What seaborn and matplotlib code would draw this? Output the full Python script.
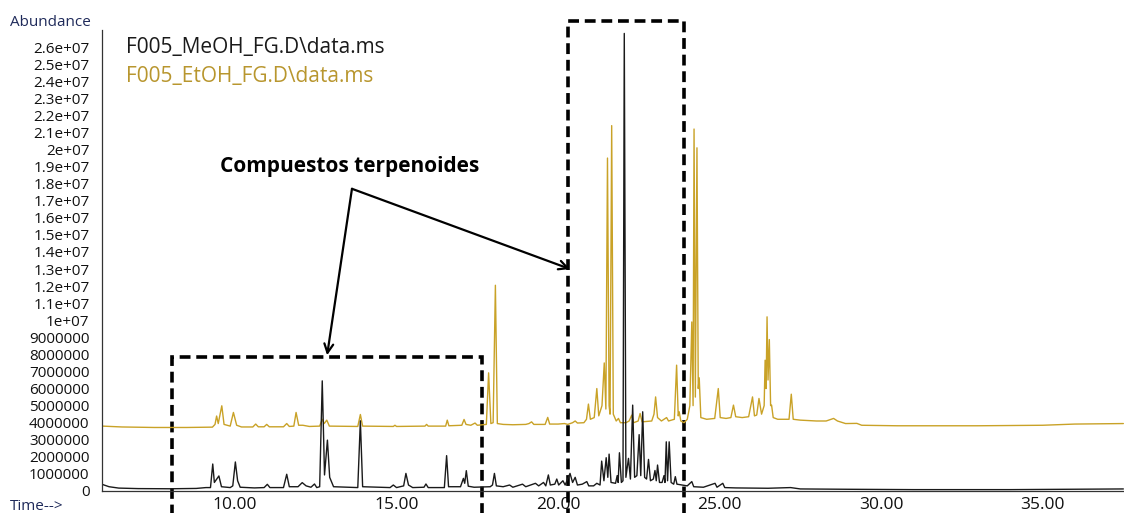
import numpy as np
import matplotlib
matplotlib.use("Agg")
import matplotlib.pyplot as plt
import seaborn as sns
from matplotlib.patches import Rectangle
from matplotlib.ticker import FuncFormatter, MultipleLocator

# Cromatogramas (tiempo en min, abundancia en millones)
meoh_rt = [5.9, 6.1, 6.4, 7.0, 8.0, 8.8, 9.1,
           9.24, 9.31, 9.36, 9.45, 9.50, 9.58, 9.85,
           9.93, 10.01, 10.08, 10.16, 10.6, 10.9, 11.0, 11.08,
           11.5, 11.6, 11.68, 11.95, 12.08, 12.2, 12.35, 12.46, 12.53,
           12.62, 12.70, 12.77, 12.86, 12.93, 13.05,
           13.8, 13.88, 13.95, 14.8, 14.9, 15.0, 15.22, 15.29, 15.37, 15.5,
           15.85, 15.91, 15.98, 16.48, 16.55, 16.61,
           16.98, 17.07, 17.11, 17.16, 17.22, 17.4, 17.9, 17.97, 18.03, 18.09,
           18.3, 18.5, 18.6, 18.9, 19.0, 19.3, 19.4, 19.55, 19.62,
           19.7, 19.76, 19.9, 19.96, 20.02, 20.15, 20.22,
           20.37, 20.45, 20.53, 20.6, 20.75, 20.89, 20.95, 21.1, 21.2,
           21.3, 21.35, 21.42, 21.49, 21.54, 21.58, 21.64,
           21.78, 21.83, 21.86, 21.9, 21.96,
           22.01, 22.05, 22.1, 22.18, 22.24,
           22.31, 22.37, 22.44, 22.51, 22.56, 22.62, 22.68,
           22.74, 22.8, 22.86, 22.95, 23.0, 23.04, 23.08, 23.14,
           23.22, 23.28, 23.31, 23.35, 23.39, 23.44, 23.5,
           23.58, 23.63, 23.68, 23.85, 24.0, 24.14, 24.2,
           24.5, 24.86, 24.92, 25.1, 25.16,
           25.5, 26.5, 27.2, 27.5, 29.0, 31.0, 34.0, 36.0, 37.5]
meoh_abund = [0.38, 0.25, 0.17, 0.14, 0.13, 0.15, 0.2,
              0.2, 1.58, 0.5, 0.75, 0.88, 0.25, 0.2,
              0.3, 1.7, 0.6, 0.22, 0.18, 0.2, 0.39, 0.2,
              0.2, 0.98, 0.25, 0.25, 0.49, 0.3, 0.22, 0.41, 0.2,
              0.25, 6.45, 0.94, 2.98, 0.8, 0.25,
              0.2, 4.11, 0.25, 0.2, 0.35, 0.2, 0.3, 1.03, 0.35, 0.2,
              0.22, 0.41, 0.2, 0.2, 2.07, 0.25,
              0.25, 0.74, 0.45, 1.19, 0.28, 0.22, 0.25, 0.35, 1.03, 0.3,
              0.25, 0.35, 0.22, 0.4, 0.25, 0.45, 0.3, 0.5, 0.3,
              0.94, 0.35, 0.4, 0.7, 0.35, 0.6, 0.35,
              1.03, 0.5, 0.8, 0.35, 0.4, 0.55, 0.3, 0.3, 0.45,
              0.35, 1.75, 0.6, 1.95, 0.8, 2.16, 0.5,
              0.45, 0.9, 0.5, 2.24, 0.5,
              0.6, 26.8, 0.8, 1.91, 0.7,
              5.03, 0.8, 0.9, 3.3, 0.9, 4.64, 0.8,
              0.7, 1.85, 0.6, 0.7, 1.2, 0.6, 1.52, 0.5,
              0.5, 0.9, 0.5, 2.88, 0.6, 2.88, 0.5,
              0.4, 0.84, 0.4, 0.35, 0.3, 0.55, 0.25,
              0.22, 0.45, 0.22, 0.45, 0.2,
              0.18, 0.16, 0.2, 0.12, 0.1, 0.08, 0.08, 0.1, 0.12]

etoh_rt = [5.9, 6.5, 7.5, 8.5, 9.3,
           9.38, 9.43, 9.48, 9.59, 9.66,
           9.85, 9.95, 10.05, 10.2,
           10.55, 10.64, 10.72, 10.9, 10.98, 11.06,
           11.5, 11.6, 11.68, 11.82, 11.89, 11.97, 12.1, 12.3,
           12.62, 12.70, 12.76, 12.84, 12.92,
           13.8, 13.88, 13.95,
           14.9, 14.95, 15.0, 15.88, 15.93, 15.98,
           16.52, 16.57, 16.62, 17.02, 17.09, 17.15, 17.3, 17.43, 17.5,
           17.78, 17.85, 17.92, 17.99, 18.06, 18.12,
           18.3, 18.6, 19.0, 19.1, 19.18, 19.25, 19.6, 19.68, 19.74,
           20.0, 20.2, 20.3, 20.45, 20.53, 20.6,
           20.8, 20.88, 20.94, 21.0, 21.12, 21.2, 21.26,
           21.36, 21.43, 21.48, 21.53, 21.58, 21.61, 21.66, 21.71,
           21.8, 21.87, 21.93, 22.1, 22.2, 22.28, 22.34, 22.48, 22.54, 22.6,
           22.9, 22.97, 23.02, 23.08, 23.2, 23.36, 23.42, 23.6,
           23.67, 23.72, 23.75, 23.8, 23.9, 24.0,
           24.08, 24.14, 24.18, 24.21, 24.25, 24.3, 24.34, 24.37, 24.42,
           24.6, 24.85, 24.96, 25.02, 25.2, 25.35, 25.43, 25.5, 25.7, 25.9,
           26.02, 26.08, 26.15, 26.22, 26.3, 26.38, 26.41, 26.44, 26.47, 26.5,
           26.54, 26.58, 26.61, 26.66,
           26.8, 27.15, 27.22, 27.28,
           27.5, 28.0, 28.3, 28.45, 28.53, 28.65, 28.9, 29.25, 29.4,
           30.5, 33.0, 35.0, 36.0, 37.5]
etoh_abund = [3.80, 3.75, 3.72, 3.72, 3.74,
              3.9, 4.39, 3.95, 4.99, 3.9,
              3.8, 4.6, 3.85, 3.75,
              3.75, 3.92, 3.76, 3.76, 3.9, 3.76,
              3.76, 3.95, 3.78, 3.8, 4.6, 3.85, 3.85, 3.78,
              3.8, 4.2, 3.95, 4.15, 3.8,
              3.78, 4.48, 3.8,
              3.78, 3.85, 3.78, 3.8, 3.9, 3.8,
              3.8, 4.15, 3.82, 3.85, 4.19, 3.9, 3.85, 3.98, 3.85,
              3.9, 6.92, 3.95, 4.0, 12.05, 3.95,
              3.9, 3.88, 3.9, 3.95, 4.05, 3.9, 3.9, 4.31, 3.92,
              3.92, 3.95, 3.9, 4.0, 4.1, 3.98,
              4.0, 4.2, 5.09, 4.2, 4.3, 6.0, 4.4,
              5.0, 7.5, 4.8, 19.5, 5.0, 4.5, 21.4, 4.5,
              4.1, 4.25, 4.0, 4.0, 4.1, 4.44, 4.0, 4.1, 4.54, 4.05,
              4.1, 4.5, 5.51, 4.3, 4.1, 4.3, 4.1, 4.2,
              7.37, 4.4, 4.64, 4.1, 4.0, 4.2,
              5.0, 9.9, 5.0, 21.2, 5.5, 20.1, 6.0, 6.63, 4.3,
              4.2, 4.25, 6.0, 4.3, 4.25, 4.3, 5.03, 4.35, 4.3, 4.35,
              5.51, 4.4, 4.45, 5.42, 4.5, 5.0, 7.66, 6.0, 10.2, 6.5,
              8.87, 5.0, 5.03, 4.3,
              4.2, 4.2, 5.67, 4.2,
              4.15, 4.1, 4.1, 4.2, 4.25, 4.1, 3.95, 3.96, 3.85,
              3.82, 3.82, 3.85, 3.92, 3.95]

# Regiones marcadas (min) y altura del recuadro (abundancia)
region_rt = [(8.05, 17.65), (20.31, 23.9)]
region_top = [7.84e6, 27.5e6]

x_major = [10, 15, 20, 25, 30, 35]
y_ticks = np.arange(0, 27e6, 1e6)

meoh_color = "#1a1a1a"
etoh_color = "#c9a227"
label_color = "#1f2a5a"

sns.set_style("white")
plt.rcParams["font.family"] = ["Open Sans", "DejaVu Sans"]

fig = plt.figure(figsize=(11.24, 5.13), dpi=100)
ax = fig.add_axes([0.0907, 0.0429, 0.9093, 0.8986])

sns.lineplot(x=etoh_rt, y=np.array(etoh_abund) * 1e6, ax=ax, color=etoh_color,
             linewidth=1.0, estimator=None, sort=False)
sns.lineplot(x=meoh_rt, y=np.array(meoh_abund) * 1e6, ax=ax, color=meoh_color,
             linewidth=1.0, estimator=None, sort=False)

ax.set_xlim(5.88, 37.52)
ax.set_ylim(0, 2.7e7)
ax.set_xticks(x_major)
ax.xaxis.set_minor_locator(MultipleLocator(0.5))
ax.xaxis.set_major_formatter(FuncFormatter(lambda v, p: f"{v:.2f}"))
ax.set_yticks(y_ticks)
ax.yaxis.set_major_formatter(
    FuncFormatter(lambda v, p: f"{int(v)}" if v < 1e7 else f"{v:g}"))
ax.tick_params(axis="both", which="both", direction="in", length=3,
               width=0.8, color="#333333", labelsize=11, pad=9,
               labelcolor="#111111")
ax.tick_params(axis="x", labelsize=12.5, pad=4)
ax.tick_params(axis="x", which="minor", length=2)
for s in ["top", "right"]:
    ax.spines[s].set_visible(False)
for s in ["left", "bottom"]:
    ax.spines[s].set_color("#333333")
    ax.spines[s].set_linewidth(0.9)
ax.set_xlabel("")
ax.set_ylabel("")

fig.text(0.009, 0.956, "Abundance", fontsize=11, color=label_color, va="center")
fig.text(0.009, 0.012, "Time-->", fontsize=11, color=label_color, va="center")

ax.text(0.0235, 0.962, "F005_MeOH_FG.D\\data.ms", transform=ax.transAxes,
        fontsize=15, color=meoh_color, va="center")
ax.text(0.0235, 0.899, "F005_EtOH_FG.D\\data.ms", transform=ax.transAxes,
        fontsize=15, color="#b8962e", va="center")

# Recuadros discontinuos
for (x0, x1), top in zip(region_rt, region_top):
    rect = Rectangle((x0, -3e6), x1 - x0, top + 3e6, fill=False,
                     edgecolor="black", linewidth=2.6,
                     linestyle=(0, (3, 1.6)), clip_on=False)
    ax.add_patch(rect)

ax.text(13.56, 19.0e6, "Compuestos terpenoides", fontsize=15,
        fontweight="bold", ha="center", va="center", color="black")
for target in [(12.85, 7.95e6), (20.37, 13.0e6)]:
    ax.annotate("", xy=target, xytext=(13.62, 17.7e6),
                arrowprops=dict(arrowstyle="->", lw=1.6, color="black",
                                mutation_scale=16, shrinkA=0, shrinkB=0),
                annotation_clip=False)

fig.savefig("out.png", dpi=100)
